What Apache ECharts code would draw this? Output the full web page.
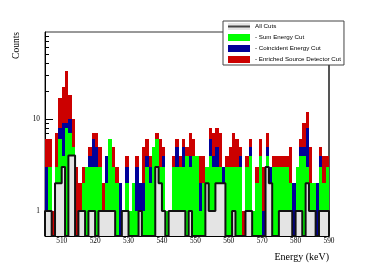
<!DOCTYPE html>
<html><head><meta charset="utf-8">
<script src="https://cdn.jsdelivr.net/npm/echarts@6/dist/echarts.min.js"></script>
<style>html,body{margin:0;padding:0;background:#fff}#c{width:374px;height:268px}</style>
</head><body><div id="c"></div>
<script>
// ---- data (1 keV bins starting at 505 keV) ----
const binStart = 505;
const binWidth = 1;
const allCuts  = [1,1,0,2,2,3,0,4,4,0, 1,1,0,1,1,0,1,1,1,1, 1,0,0,1,1,0,0,0,1,0, 0,0,0,3,2,1,0,1,1,1, 1,1,0,1,0,0,0,0,2,1, 1,2,2,2,0,0,1,0,0,0, 1,1,0,0,0,0,3,2,0,0, 1,1,1,1,0,1,1,0,2,1, 1,0,1,1,1];
const sumCut   = [1,3,0,3,6,4,8,7,5,0, 1,2,3,3,3,3,3,1,2,6, 3,2,0,1,2,1,2,1,1,1, 3,2,5,6,3,3,1,1,3,3, 3,3,4,3,4,4,1,2,3,4, 3,3,3,2,3,3,3,3,3,0, 3,4,1,2,4,0,4,2,3,3, 3,3,3,2,0,3,4,4,3,2, 2,0,3,2,3];
const coincCut = [3,3,0,3,8,9,9,10,5,0, 1,2,3,4,6,5,3,1,4,6, 3,2,2,1,3,1,2,3,2,2, 4,3,5,6,3,4,1,1,3,5, 3,5,4,4,4,4,2,2,3,6, 4,5,3,3,3,3,3,3,4,0, 3,5,1,2,4,1,5,3,3,3, 3,3,3,2,2,3,5,5,8,2, 2,2,4,2,3];
const enrCut   = [6,6,1,7,17,22,33,18,10,3, 2,3,3,5,7,7,5,2,4,6, 5,3,2,1,4,1,2,4,2,5, 6,4,5,7,6,5,1,1,4,6, 4,6,5,7,6,4,4,4,3,8, 7,8,7,3,4,5,7,6,5,1, 4,6,1,3,6,3,7,3,4,4, 4,4,4,5,2,3,6,9,12,5, 2,2,5,4,4];
const seriesNames = ['All Cuts', '- Sum Energy Cut', '- Coincident Energy Cut', '- Enriched Source Detector Cut'];
const xTickLabels = [510, 520, 530, 540, 550, 560, 570, 580, 590];
const yTickLabels = [1, 10];
const yMinorTicks = [0.6, 0.7, 0.8, 0.9, 2, 3, 4, 5, 6, 7, 8, 9, 20, 30, 40, 50, 60, 70, 80];

// ---- layout / style ----
const X_MIN = 505, X_MAX = 590, Y_MIN = 0.535, Y_MAX = 88;
const C_RED = '#cc0000', C_BLUE = '#000099', C_GREEN = '#00ff00', C_GRAY = '#e4e4e4';
const xMinorTicks = [];
for (let e = 506; e <= 590; e += 2) if (e % 10 !== 0) xMinorTicks.push(e);

function toHist(arr) {
  return arr.map((v, i) => [binStart + i * binWidth, binStart + (i + 1) * binWidth, v]).filter(d => d[2] > 0);
}
function renderBar(params, api) {
  const lo = api.value(0), hi = api.value(1), v = api.value(2);
  const a = api.coord([lo, v]), b = api.coord([hi, Y_MIN]);
  const x0 = Math.round(a[0]), x1 = Math.round(b[0]), y0 = Math.round(a[1]);
  return {type: 'rect', shape: {x: x0, y: y0, width: x1 - x0, height: b[1] - y0},
          style: {fill: api.visual('color')}};
}
function outline(arr) {
  const pts = [[binStart, Y_MIN]];
  arr.forEach((v, i) => pts.push([binStart + i * binWidth, v > 0 ? v : Y_MIN]));
  const last = arr[arr.length - 1];
  const end = binStart + arr.length * binWidth;
  pts.push([end, last > 0 ? last : Y_MIN]);
  pts.push([end, Y_MIN]);
  return pts;
}
const svg = "<svg xmlns='http://www.w3.org/2000/svg' width='22' height='7'><rect width='22' height='7' fill='" + C_GRAY + "'/><rect y='2.5' width='22' height='2' fill='#444'/></svg>";
const allIcon = 'image://data:image/svg+xml;charset=utf-8,' + encodeURIComponent(svg);

const serifFont = 'Liberation Serif';
const chart = echarts.init(document.getElementById('c'), null, {renderer: 'canvas'});
chart.setOption({
  animation: false,
  backgroundColor: '#fff',
  grid: {left: 45, top: 32, width: 284, height: 204, containLabel: false, outerBoundsMode: 'none',
         show: true, borderColor: '#333', borderWidth: 1, backgroundColor: 'transparent'},
  xAxis: [
    {type: 'value', min: X_MIN, max: X_MAX, position: 'bottom',
     axisLine: {show: true, onZero: false, lineStyle: {color: '#000', width: 1}},
     axisTick: {show: true, inside: true, length: 6, customValues: xTickLabels, lineStyle: {color: '#000'}},
     axisLabel: {show: true, customValues: xTickLabels, margin: 2, fontFamily: serifFont, fontSize: 7.3, color: '#000'},
     splitLine: {show: false}},
    {type: 'value', min: X_MIN, max: X_MAX, position: 'bottom',
     axisLine: {show: false, onZero: false},
     axisTick: {show: true, inside: true, length: 3, customValues: xMinorTicks, lineStyle: {color: '#000'}},
     axisLabel: {show: false}, splitLine: {show: false}}
  ],
  yAxis: [
    {type: 'log', logBase: 10, min: Y_MIN, max: Y_MAX, position: 'left',
     axisLine: {show: true, onZero: false, lineStyle: {color: '#000', width: 1}},
     axisTick: {show: true, inside: true, length: 8, customValues: yTickLabels, lineStyle: {color: '#000'}},
     axisLabel: {show: true, customValues: yTickLabels, margin: 5, fontFamily: serifFont, fontSize: 7.3, color: '#000'},
     splitLine: {show: false}},
    {type: 'log', logBase: 10, min: Y_MIN, max: Y_MAX, position: 'left',
     axisLine: {show: false, onZero: false},
     axisTick: {show: true, inside: true, length: 4, customValues: yMinorTicks, lineStyle: {color: '#000'}},
     axisLabel: {show: false}, splitLine: {show: false}},
    {type: 'log', logBase: 10, min: Y_MIN, max: Y_MAX, position: 'right',
     axisLine: {show: true, onZero: false, lineStyle: {color: '#555', width: 2}},
     axisTick: {show: false}, axisLabel: {show: false}, splitLine: {show: false}}
  ],
  legend: {
    orient: 'vertical', left: 223, top: 21, itemWidth: 22, itemHeight: 7, itemGap: 4,
    padding: [2, 3, 2, 5], borderColor: '#444', borderWidth: 1, backgroundColor: '#fff',
    selectedMode: false, z: 10,
    textStyle: {fontFamily: 'Liberation Sans', fontSize: 6.2, color: '#000'},
    data: [
      {name: seriesNames[0], icon: allIcon},
      {name: seriesNames[1], icon: 'rect'},
      {name: seriesNames[2], icon: 'rect'},
      {name: seriesNames[3], icon: 'rect'}
    ]
  },
  series: [
    {type: 'custom', name: seriesNames[3], renderItem: renderBar, data: toHist(enrCut),
     encode: {x: [0, 1], y: 2}, itemStyle: {color: C_RED}, clip: true},
    {type: 'custom', name: seriesNames[2], renderItem: renderBar, data: toHist(coincCut),
     encode: {x: [0, 1], y: 2}, itemStyle: {color: C_BLUE}, clip: true},
    {type: 'custom', name: seriesNames[1], renderItem: renderBar, data: toHist(sumCut),
     encode: {x: [0, 1], y: 2}, itemStyle: {color: C_GREEN}, clip: true},
    {type: 'custom', name: seriesNames[0], renderItem: renderBar, data: toHist(allCuts),
     encode: {x: [0, 1], y: 2}, itemStyle: {color: C_GRAY}, clip: true},
    {type: 'line', name: 'All Cuts outline', data: outline(allCuts), step: 'end', symbol: 'none',
     lineStyle: {color: '#111', width: 2}, clip: true, z: 3}
  ],
  graphic: [
    {type: 'text', x: 16, y: 32, rotation: Math.PI / 2,
     style: {text: 'Counts', font: '9.5px "Liberation Serif"', fill: '#000', align: 'right', verticalAlign: 'middle'}},
    {type: 'text', x: 329, y: 257,
     style: {text: 'Energy (keV)', font: '10px "Liberation Serif"', fill: '#000', align: 'right', verticalAlign: 'middle'}}
  ]
});
</script>
</body></html>
